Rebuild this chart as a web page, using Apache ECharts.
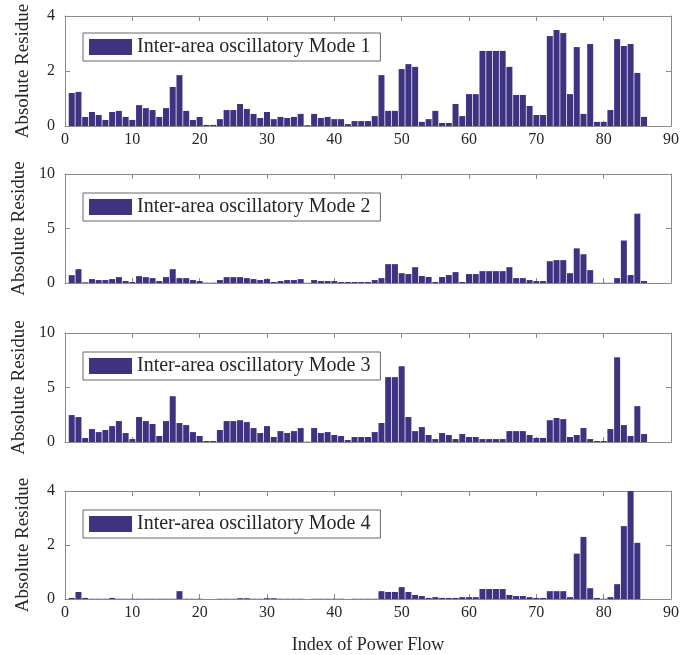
<!DOCTYPE html>
<html>
<head>
<meta charset="utf-8">
<script src="https://cdn.jsdelivr.net/npm/echarts@6/dist/echarts.min.js"></script>
<style>
  html, body { margin: 0; padding: 0; background: #fff; }
  #chart { width: 694px; height: 655px; }
</style>
</head>
<body>
<div id="chart"></div>
<script>
// residue of each power flow, index 1..86
var mode1 = [1.2,1.24,0.33,0.51,0.4,0.22,0.51,0.55,0.33,0.22,
    0.76,0.65,0.58,0.33,0.65,1.42,1.85,0.55,0.22,0.33,
    0.04,0.04,0.25,0.58,0.58,0.8,0.62,0.44,0.29,0.51,
    0.25,0.33,0.29,0.33,0.44,0.03,0.44,0.29,0.33,0.25,
    0.25,0.07,0.18,0.18,0.18,0.36,1.85,0.55,0.55,2.07,
    2.25,2.15,0.15,0.25,0.55,0.11,0.11,0.8,0.36,1.16,
    1.16,2.73,2.73,2.73,2.73,2.15,1.13,1.13,0.73,0.4,
    0.4,3.27,3.49,3.38,1.16,2.87,0.44,2.98,0.15,0.15,
    0.58,3.16,2.91,2.98,1.93,0.33];
var mode2 = [0.72,1.27,0.06,0.36,0.27,0.27,0.36,0.54,0.18,0.09,
    0.63,0.54,0.45,0.18,0.54,1.27,0.45,0.45,0.27,0.18,
    0.03,0.03,0.27,0.54,0.54,0.54,0.45,0.36,0.27,0.36,
    0.09,0.18,0.27,0.27,0.36,0.02,0.27,0.18,0.18,0.18,
    0.09,0.09,0.09,0.09,0.09,0.27,0.45,1.73,1.73,0.9,
    0.82,1.45,0.64,0.55,0.09,0.55,0.73,1.0,0.09,0.82,
    0.82,1.09,1.09,1.09,1.09,1.45,0.45,0.45,0.27,0.18,
    0.18,2.0,2.1,2.1,0.9,3.18,2.64,1.18,0.02,0.02,
    0.02,0.45,3.9,0.73,6.36,0.18];
var mode3 = [2.47,2.29,0.37,1.19,0.91,1.1,1.46,1.92,0.82,0.27,
    2.29,1.92,1.65,0.55,1.92,4.2,1.74,1.55,0.91,0.55,
    0.09,0.09,1.1,1.92,1.92,2.0,1.83,1.28,0.82,1.46,
    0.46,1.0,0.82,1.0,1.28,0.03,1.28,0.82,0.91,0.64,
    0.55,0.18,0.46,0.46,0.46,0.91,1.74,5.95,5.95,6.95,
    2.29,1.0,1.37,0.64,0.27,0.82,0.64,0.27,0.73,0.46,
    0.46,0.27,0.27,0.27,0.27,1.0,1.0,1.0,0.64,0.37,
    0.37,2.0,2.2,2.1,0.46,0.64,1.28,0.27,0.09,0.09,
    1.19,7.77,1.55,0.55,3.29,0.73];
var mode4 = [0.04,0.26,0.04,0.01,0.01,0.01,0.04,0.01,0.01,0.01,
    0.01,0.01,0.01,0.01,0.01,0.01,0.29,0.01,0.01,0.01,
    0,0,0.01,0.01,0.01,0.03,0.03,0.01,0.01,0.03,
    0.03,0.01,0.01,0.01,0.01,0,0.01,0.01,0.01,0.01,
    0.01,0,0.01,0.01,0.01,0.01,0.29,0.26,0.26,0.44,
    0.26,0.15,0.11,0.04,0.07,0.04,0.04,0.04,0.07,0.07,
    0.07,0.37,0.37,0.37,0.37,0.15,0.11,0.11,0.07,0.04,
    0.04,0.29,0.29,0.29,0.07,1.68,2.3,0.4,0.04,0.01,
    0.07,0.55,2.7,4.3,2.08,0];

var modes = [mode1, mode2, mode3, mode4];
var names = ['Inter-area oscillatory Mode 1', 'Inter-area oscillatory Mode 2',
    'Inter-area oscillatory Mode 3', 'Inter-area oscillatory Mode 4'];
var yMax = [4, 10, 10, 4];
var yStep = [2, 5, 5, 2];

var gridTop = [16, 174, 333, 491];
var gridH = [110, 109, 109, 109];
var legendTop = [33, 193, 352, 510];

var font = 'Liberation Serif';
var axisCol = '#8a8a8a';
var textCol = '#262626';
var barCol = '#3d3381';

var chart = echarts.init(document.getElementById('chart'));

var grid = [], xAxis = [], yAxis = [], series = [], legend = [];
for (var i = 0; i < 4; i++) {
    grid.push({ left: 65, right: 23, top: gridTop[i], height: gridH[i] });

    // bottom axis
    xAxis.push({
        type: 'value', gridIndex: i, min: 0, max: 90, interval: 10,
        axisLine: { show: true, onZero: false, lineStyle: { color: axisCol } },
        axisTick: { show: true, inside: true, length: 5, lineStyle: { color: axisCol } },
        splitLine: { show: false },
        axisLabel: { show: i == 0 || i == 3, margin: 6, fontSize: 16, fontFamily: font, color: textCol },
        name: i == 3 ? 'Index of Power Flow' : '',
        nameLocation: 'middle', nameGap: 37,
        nameTextStyle: { fontSize: 18, fontFamily: font, color: textCol }
    });
    // top axis, only ticks
    xAxis.push({
        type: 'value', gridIndex: i, position: 'top', min: 0, max: 90, interval: 10,
        axisLine: { show: true, onZero: false, lineStyle: { color: axisCol } },
        axisTick: { show: true, inside: true, length: 5, lineStyle: { color: axisCol } },
        splitLine: { show: false },
        axisLabel: { show: false }
    });
    yAxis.push({
        type: 'value', gridIndex: i, min: 0, max: yMax[i], interval: yStep[i],
        axisLine: { show: true, onZero: false, lineStyle: { color: axisCol } },
        axisTick: { show: true, inside: true, length: 5, lineStyle: { color: axisCol } },
        splitLine: { show: false },
        axisLabel: { margin: 10, fontSize: 16, fontFamily: font, color: textCol },
        name: 'Absolute Residue', nameLocation: 'middle', nameGap: 32, nameRotate: 90,
        nameTextStyle: { fontSize: 19, fontFamily: font, color: textCol }
    });
    yAxis.push({
        type: 'value', gridIndex: i, position: 'right', min: 0, max: yMax[i], interval: yStep[i],
        axisLine: { show: true, onZero: false, lineStyle: { color: axisCol } },
        axisTick: { show: true, inside: true, length: 5, lineStyle: { color: axisCol } },
        splitLine: { show: false },
        axisLabel: { show: false }
    });

    series.push({
        name: names[i], type: 'bar',
        xAxisIndex: 2 * i, yAxisIndex: 2 * i,
        barWidth: 6, clip: true,
        itemStyle: { color: barCol },
        data: modes[i].map(function (v, k) { return [k + 1, v]; })
    });

    legend.push({
        data: [{ name: names[i], icon: 'rect' }], left: 83, top: legendTop[i],
        orient: 'vertical',
        itemWidth: 43, itemHeight: 16, itemGap: 0,
        padding: [4, 10, 4, 6],
        borderColor: '#666', borderWidth: 1, backgroundColor: '#fff',
        selectedMode: false,
        textStyle: { fontSize: 20, fontFamily: font, color: textCol }
    });
}

option = {
    animation: false,
    backgroundColor: '#fff',
    grid: grid,
    xAxis: xAxis,
    yAxis: yAxis,
    legend: legend,
    series: series
};
chart.setOption(option);
</script>
</body>
</html>
